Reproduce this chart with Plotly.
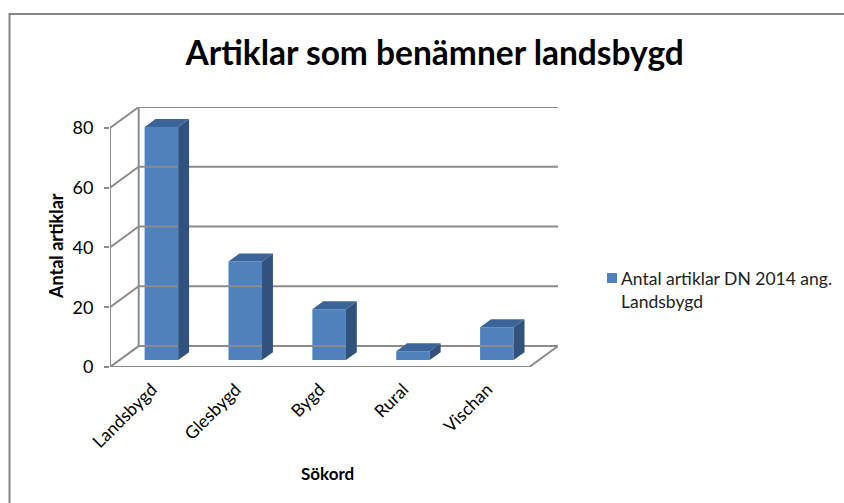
import plotly.graph_objects as go

categories = ["Landsbygd", "Glesbygd", "Bygd", "Rural", "Vischan"]
values = [78, 33, 17, 3, 11]
yticks = [0, 20, 40, 60, 80]
series_name = "Antal artiklar DN 2014 ang.<br>Landsbygd"

# fake 3d: depth offset of the back wall in data units
DX, DY = 0.342, 7.0
F = 0.33          # bar front sits a third into the depth
BW = 0.40         # bar width
BD = 0.38         # bar depth as share of DX/DY

front_col = "#4F81BD"
side_col = "#31527D"
top_col = "#3B6598"
grid_col = "#8C8C8C"
FONT = "Lato"

# plot area in pixels: x 110..558, y 107..367
PL, PW, PB, PH = 110, 448, 367, 260
def px(x):
    return (x - PL) / PW
def py(y):
    return (PB - y) / PH

xs = list(range(len(categories)))
n = len(categories)

# wall / floor lines
gx, gy = [], []
for v in yticks:
    gx += [-0.5, -0.5 + DX, n - 0.5 + DX, None]
    gy += [v, v + DY, v + DY, None]
gx += [-0.5 + DX, -0.5 + DX, None, -0.5, -0.5, None, -0.5, n - 0.5, n - 0.5 + DX, None]
gy += [DY, yticks[-1] + DY, None, 0, yticks[-1], None, 0, 0, DY, None]

# side and top faces of the bars
sx, sy, tx, ty = [], [], [], []
for i, v in zip(xs, values):
    xl = i + DX * F - BW / 2
    xr = i + DX * F + BW / 2
    b = DY * F
    t = v + DY * F
    ddx, ddy = DX * BD, DY * BD
    sx += [xr, xr + ddx, xr + ddx, xr, xr, None]
    sy += [b, b + ddy, t + ddy, t, b, None]
    tx += [xl, xl + ddx, xr + ddx, xr, xl, None]
    ty += [t, t + ddy, t + ddy, t, t, None]

fig = go.Figure()
fig.add_trace(go.Scatter(x=gx, y=gy, mode="lines", line=dict(color=grid_col, width=2),
                         showlegend=False, hoverinfo="skip"))
fig.add_trace(go.Scatter(x=sx, y=sy, mode="lines", fill="toself", fillcolor=side_col,
                         line=dict(width=0, color=side_col), showlegend=False, hoverinfo="skip"))
fig.add_trace(go.Scatter(x=tx, y=ty, mode="lines", fill="toself", fillcolor=top_col,
                         line=dict(width=0, color=top_col), showlegend=False, hoverinfo="skip"))
fig.add_trace(go.Bar(x=[i + DX * F for i in xs], y=values, base=DY * F, width=BW,
                     marker=dict(color=front_col, line=dict(width=0)),
                     name=series_name, hoverinfo="skip", showlegend=False))

fig.update_layout(
    width=844, height=503,
    margin=dict(l=PL, r=844 - PL - PW, t=PB - PH, b=503 - PB),
    paper_bgcolor="white", plot_bgcolor="white",
    font=dict(family=FONT, size=17, color="#000000"),
    title=dict(text="<b>Artiklar som benämner landsbygd</b>", xref="container", yref="container",
               x=0.515, y=1 - 53 / 503, xanchor="center", yanchor="middle",
               font=dict(size=33.5, color="#000000")),
    xaxis=dict(range=[-0.5, n - 0.5 + DX], tickvals=xs, ticktext=categories, tickangle=-45,
               showgrid=False, zeroline=False, showline=False, ticks="", ticklabelstandoff=8,
               tickfont=dict(size=17.5)),
    yaxis=dict(range=[0, yticks[-1] + DY], tickvals=yticks, showgrid=False, zeroline=False,
               showline=False, ticks="outside", ticklen=5, tickcolor=grid_col, tickwidth=2,
               ticklabelstandoff=7, tickfont=dict(size=18)),
    annotations=[
        dict(text="<b>Antal artiklar</b>", xref="paper", yref="paper",
             x=px(56), y=py(246), xanchor="center", yanchor="middle", textangle=-90,
             showarrow=False, font=dict(size=18)),
        dict(text="<b>Sökord</b>", xref="paper", yref="paper",
             x=px(327), y=py(474), xanchor="center", yanchor="middle", showarrow=False,
             font=dict(size=17)),
        # legend entry
        dict(text=series_name, xref="paper", yref="paper", x=px(619), y=py(266),
             xanchor="left", yanchor="top", align="left", showarrow=False,
             font=dict(size=17.5, color="#222222")),
    ],
    shapes=[
        dict(type="rect", xref="paper", yref="paper",
             x0=px(9.5), x1=px(860), y0=py(520), y1=py(14),
             line=dict(color="#868686", width=2), layer="below"),
        dict(type="rect", xref="paper", yref="paper",
             x0=px(607), x1=px(617), y0=py(283), y1=py(273),
             fillcolor=front_col, line=dict(width=0)),
    ],
    showlegend=False,
)

fig.write_html("out.html", config={"displayModeBar": False},
               post_script="document.body.style.margin='0';")
